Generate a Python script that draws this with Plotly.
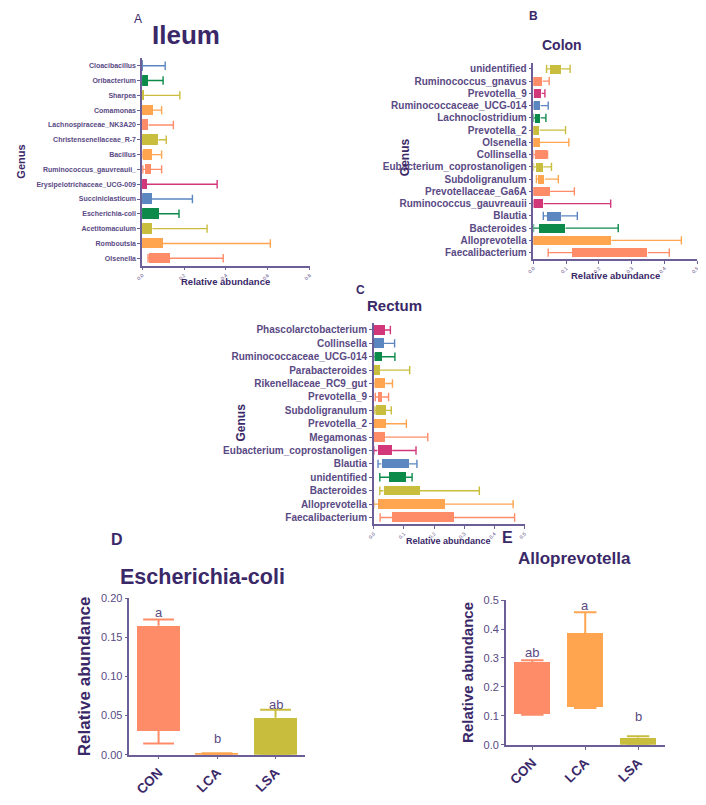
import plotly.graph_objects as go

# reference canvas and page offset (default body margin of the html page)
W, H = 706, 805
OFF = 8
FW, FH = W - OFF, H - OFF
FONT = "Arial, Liberation Sans, sans-serif"
TITLE_C = "#3a2868"
TICK_C = "#5a4a84"
AXIS_C = "#6c5f98"

SAL, ORG, OLV, GRN, BLU, MAG = "#ff8c69", "#ffa54f", "#c9bd3e", "#0c8a4a", "#5b86c0", "#d2377a"

# ---------------- Panel A: Ileum (top to bottom) ----------------
ileum_genus = ["Cloacibacillus", "Oribacterium", "Sharpea", "Comamonas", "Lachnospiraceae_NK3A20",
               "Christensenellaceae_R-7", "Bacillus", "Ruminococcus_gauvreauii_", "Erysipelotrichaceae_UCG-009",
               "Succiniclasticum", "Escherichia-coli", "Acetitomaculum", "Romboutsia", "Olsenella"]
ileum_box_lo = [0.0, 0.0, 0.0, 0.0, 0.0, 0.0, 0.003, 0.013, 0.0, 0.0, 0.0, 0.0, 0.0, 0.035]
ileum_box_hi = [0.003, 0.028, 0.01, 0.052, 0.031, 0.078, 0.047, 0.041, 0.023, 0.047, 0.08, 0.049, 0.099, 0.133]
ileum_wh_lo = [0.0, 0.0, 0.0, 0.0, 0.0, 0.0, 0.0, 0.003, 0.0, 0.0, 0.0, 0.0, 0.0, 0.028]
ileum_wh_hi = [0.11, 0.10, 0.18, 0.093, 0.149, 0.115, 0.093, 0.093, 0.358, 0.24, 0.176, 0.31, 0.612, 0.387]
ileum_colors = [BLU, GRN, OLV, ORG, SAL, OLV, ORG, SAL, MAG, BLU, GRN, OLV, ORG, SAL]
ileum_ticks = [0.0, 0.2, 0.4, 0.6, 0.8]

# ---------------- Panel B: Colon ----------------
colon_genus = ["unidentified", "Ruminococcus_gnavus", "Prevotella_9", "Ruminococcaceae_UCG-014",
               "Lachnoclostridium", "Prevotella_2", "Olsenella", "Collinsella", "Eubacterium_coprostanoligen",
               "Subdoligranulum", "Prevotellaceae_Ga6A", "Ruminococcus_gauvreauii", "Blautia", "Bacteroides",
               "Alloprevotella", "Faecalibacterium"]
colon_box_lo = [0.053, 0.0, 0.003, 0.003, 0.005, 0.0, 0.0, 0.006, 0.008, 0.015, 0.0, 0.003, 0.043, 0.018, 0.0, 0.12]
colon_box_hi = [0.085, 0.028, 0.025, 0.022, 0.022, 0.019, 0.02, 0.043, 0.03, 0.035, 0.051, 0.031, 0.085, 0.098, 0.238, 0.349]
colon_wh_lo = [0.04, 0.0, 0.003, 0.0, 0.0, 0.0, 0.0, 0.0, 0.0, 0.009, 0.0, 0.0, 0.03, 0.0, 0.0, 0.045]
colon_wh_hi = [0.112, 0.048, 0.035, 0.045, 0.038, 0.098, 0.108, 0.043, 0.055, 0.076, 0.125, 0.236, 0.134, 0.259, 0.452, 0.415]
colon_colors = [OLV, SAL, MAG, BLU, GRN, OLV, ORG, SAL, OLV, ORG, SAL, MAG, BLU, GRN, ORG, SAL]
colon_ticks = [0.0, 0.1, 0.2, 0.3, 0.4, 0.5]

# ---------------- Panel C: Rectum ----------------
rectum_genus = ["Phascolarctobacterium", "Collinsella", "Ruminococcaceae_UCG-014", "Parabacteroides",
                "Rikenellaceae_RC9_gut", "Prevotella_9", "Subdoligranulum", "Prevotella_2", "Megamonas",
                "Eubacterium_coprostanoligen", "Blautia", "unidentified", "Bacteroides", "Alloprevotella",
                "Faecalibacterium"]
rectum_box_lo = [0.0, 0.0, 0.003, 0.0, 0.003, 0.014, 0.007, 0.001, 0.0, 0.012, 0.025, 0.051, 0.032, 0.014, 0.061]
rectum_box_hi = [0.036, 0.034, 0.027, 0.021, 0.038, 0.028, 0.04, 0.039, 0.035, 0.061, 0.117, 0.105, 0.153, 0.236, 0.265]
rectum_wh_lo = [0.0, 0.0, 0.0, 0.0, 0.0, 0.005, 0.004, 0.0, 0.0, 0.0, 0.014, 0.02, 0.02, 0.0, 0.021]
rectum_wh_hi = [0.055, 0.069, 0.07, 0.119, 0.062, 0.049, 0.058, 0.108, 0.179, 0.14, 0.143, 0.127, 0.35, 0.462, 0.467]
rectum_colors = [MAG, BLU, GRN, OLV, ORG, SAL, OLV, ORG, SAL, MAG, BLU, GRN, OLV, ORG, SAL]
rectum_ticks = [0.0, 0.1, 0.2, 0.3, 0.4, 0.5]

# ---------------- Panel D / E ----------------
groups = ["CON", "LCA", "LSA"]
group_colors = [SAL, ORG, OLV]
ecoli_box_lo = [0.0306, 0.0005, 0.0]
ecoli_box_hi = [0.1648, 0.0018, 0.047]
ecoli_wh_lo = [0.0143, 0.0005, 0.0]
ecoli_wh_hi = [0.1727, 0.0018, 0.0574]
ecoli_letters = ["a", "b", "ab"]
ecoli_letter_y = [0.181, 0.021, 0.064]

allo_box_lo = [0.107, 0.130, 0.0]
allo_box_hi = [0.286, 0.385, 0.025]
allo_wh_lo = [0.104, 0.127, 0.0]
allo_wh_hi = [0.292, 0.458, 0.030]
allo_letters = ["ab", "a", "b"]
allo_letter_y = [0.353, 0.515, 0.064]


def dom_x(a, b):
    return [(a - OFF) / FW, (b - OFF) / FW]


def dom_y(top, bot):
    return [1 - (bot - OFF) / FH, 1 - (top - OFF) / FH]


fig = go.Figure()


def hpanel(ax, genus, blo, bhi, wlo, whi, colors, capsize, width):
    xa = "x" + ax
    ya = "y" + ax
    fig.add_trace(go.Bar(
        y=genus, x=[h - l for l, h in zip(blo, bhi)], base=blo, orientation="h",
        marker=dict(color=colors, line=dict(width=0)), width=width,
        xaxis=xa, yaxis=ya, showlegend=False, hoverinfo="skip"))
    for g, l, h, wl, wh, c in zip(genus, blo, bhi, wlo, whi, colors):
        fig.add_trace(go.Scatter(
            x=[wl, l, None, h, wh], y=[g, g, None, g, g], mode="lines",
            line=dict(color=c, width=1.4), xaxis=xa, yaxis=ya, showlegend=False, hoverinfo="skip"))
    fig.add_trace(go.Scatter(
        x=list(wlo) + list(whi), y=list(genus) + list(genus), mode="markers",
        marker=dict(symbol="line-ns", size=capsize, line=dict(color=list(colors) + list(colors), width=1.4)),
        xaxis=xa, yaxis=ya, showlegend=False, hoverinfo="skip"))


def vpanel(ax, blo, bhi, wlo, whi, capsize, width):
    xa = "x" + ax
    ya = "y" + ax
    fig.add_trace(go.Bar(
        x=groups, y=[h - l for l, h in zip(blo, bhi)], base=blo,
        marker=dict(color=group_colors, line=dict(width=0)), width=width,
        xaxis=xa, yaxis=ya, showlegend=False, hoverinfo="skip"))
    for g, l, h, wl, wh, c in zip(groups, blo, bhi, wlo, whi, group_colors):
        fig.add_trace(go.Scatter(
            x=[g, g, None, g, g], y=[wl, l, None, h, wh], mode="lines",
            line=dict(color=c, width=2), xaxis=xa, yaxis=ya, showlegend=False, hoverinfo="skip"))
    fig.add_trace(go.Scatter(
        x=groups + groups, y=list(wlo) + list(whi), mode="markers",
        marker=dict(symbol="line-ew", size=capsize, line=dict(color=group_colors + group_colors, width=2)),
        xaxis=xa, yaxis=ya, showlegend=False, hoverinfo="skip"))


hpanel("", ileum_genus, ileum_box_lo, ileum_box_hi, ileum_wh_lo, ileum_wh_hi, ileum_colors, 6, 0.72)
hpanel("2", colon_genus, colon_box_lo, colon_box_hi, colon_wh_lo, colon_wh_hi, colon_colors, 6, 0.72)
hpanel("3", rectum_genus, rectum_box_lo, rectum_box_hi, rectum_wh_lo, rectum_wh_hi, rectum_colors, 6, 0.72)
vpanel("4", ecoli_box_lo, ecoli_box_hi, ecoli_wh_lo, ecoli_wh_hi, 22, 0.73)
vpanel("5", allo_box_lo, allo_box_hi, allo_wh_lo, allo_wh_hi, 16, 0.68)

common_axis = dict(showline=True, linecolor=AXIS_C, linewidth=1.5, showgrid=False, zeroline=False,
                   ticks="outside", tickcolor=AXIS_C, tickwidth=1, fixedrange=True)


def haxes(ax, genus, ticks, xrange, xd, yd, catfont, numfont):
    n = len(genus)
    xa = dict(common_axis, domain=dom_x(*xd), range=xrange, tickvals=ticks,
              ticktext=["%.1f" % t for t in ticks], tickangle=-45, ticklen=3,
              tickfont=dict(family=FONT, size=numfont, color=TICK_C), anchor="y" + ax)
    ya = dict(common_axis, domain=dom_y(*yd), type="category", categoryorder="array",
              categoryarray=genus, range=[n - 0.5, -0.5], ticklen=3,
              tickfont=dict(family=FONT, size=catfont, color=TICK_C, weight="bold"),
              anchor="x" + ax)
    fig.update_layout(**{"xaxis" + ax: xa, "yaxis" + ax: ya})


haxes("", ileum_genus, ileum_ticks, [0, 0.8], (137, 307), (53, 263.5), 7, 5)
haxes("2", colon_genus, colon_ticks, [0, 0.5], (534, 700), (57.5, 256.5), 10, 5)
haxes("3", rectum_genus, rectum_ticks, [0, 0.5], (372, 525), (322, 526), 10, 5)


def vaxes(ax, yrange, dtick, fmt, xd, yd, tsize):
    xa = dict(common_axis, domain=dom_x(*xd), type="category", range=[-0.5, 2.5], tickangle=-45,
              ticklen=3, tickfont=dict(family=FONT, size=13.5, color=TITLE_C, weight="bold"),
              anchor="y" + ax)
    ya = dict(common_axis, domain=dom_y(*yd), range=yrange, dtick=dtick, tick0=0, tickformat=fmt,
              ticklen=3, tickfont=dict(family=FONT, size=11, color=TICK_C), anchor="x" + ax,
              title=dict(text="<b>Relative abundance</b>", font=dict(family=FONT, size=tsize, color=TITLE_C),
                         standoff=6))
    fig.update_layout(**{"xaxis" + ax: xa, "yaxis" + ax: ya})


vaxes("4", [0, 0.2], 0.05, ".2f", (124, 302), (601, 760), 17)
vaxes("5", [0, 0.5], 0.1, ".1f", (506, 667), (603, 750), 15)

ann = []


def txt(x, y, s, size, bold=True, color=TITLE_C, angle=0):
    ann.append(dict(x=(x - OFF) / FW, y=1 - (y - OFF) / FH, xref="paper", yref="paper", text=s,
                    showarrow=False, xanchor="center", yanchor="middle", textangle=angle,
                    font=dict(family=FONT, size=size, color=color, weight="bold" if bold else "normal")))


# Panel A
txt(133, 13, "A", 12, bold=False)
txt(181, 29, "Ileum", 26)
txt(14, 158, "Genus", 11, angle=-90)
txt(222, 280, "Relative abundance", 9.5)
# Panel B
txt(534, 10, "B", 12)
txt(563, 39, "Colon", 14)
txt(403, 153, "Genus", 12, angle=-90)
txt(617, 274, "Relative abundance", 9.5)
# Panel C
txt(359, 288, "C", 12)
txt(393, 304, "Rectum", 15)
txt(237, 423, "Genus", 12, angle=-90)
txt(448, 543, "Relative abundance", 9)
# Panel D / E
txt(111, 542, "D", 16)
txt(198, 580, "Escherichia-coli", 21.5)
txt(508, 539, "E", 16)
txt(576, 561, "Alloprevotella", 17)

for g, s, yv in zip(groups, ecoli_letters, ecoli_letter_y):
    ann.append(dict(x=g, y=yv, xref="x4", yref="y4", text=s, showarrow=False,
                    font=dict(family=FONT, size=13, color=TICK_C)))
# panel E: letters via the axis domain so the one above 0.5 is not hidden
e_top, e_bot = 603, 750
for g, s, yv in zip(groups, allo_letters, allo_letter_y):
    ann.append(dict(x=g, y=yv / 0.5, xref="x5", yref="y5 domain", text=s, showarrow=False,
                    font=dict(family=FONT, size=13, color=TICK_C)))

fig.update_layout(width=FW, height=FH, margin=dict(l=0, r=0, t=0, b=0),
                  paper_bgcolor="white", plot_bgcolor="white", annotations=ann,
                  bargap=0, showlegend=False)

fig.write_html("out.html")
